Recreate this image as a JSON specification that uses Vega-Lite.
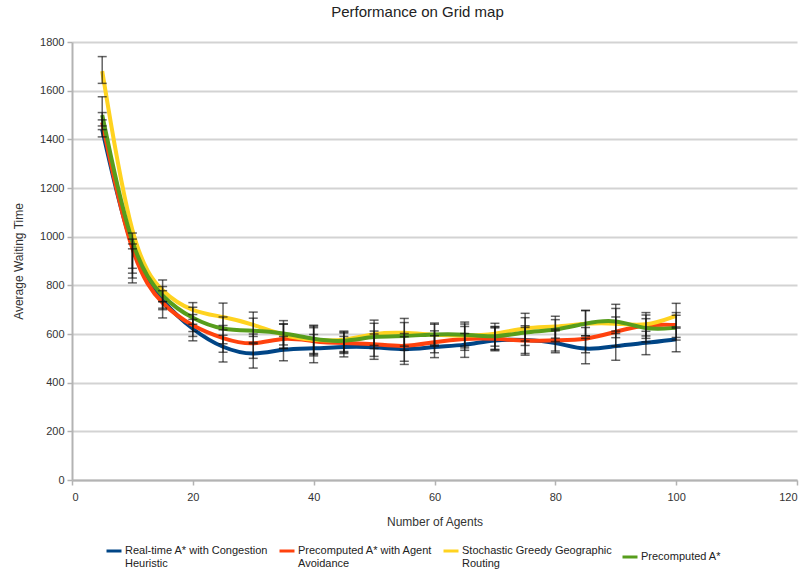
{
  "$schema": "https://vega.github.io/schema/vega-lite/v6.json",
  "width": 725,
  "height": 438,
  "autosize": {"type": "none"},
  "padding": {"left": 72, "top": 42, "right": 14, "bottom": 98},
  "background": "white",
  "title": {"text": "Performance on Grid map", "fontSize": 15, "font": "Liberation Sans", "fontWeight": "normal", "color": "#222", "anchor": "middle", "dx": -17, "offset": 16},
  "config": {
    "view": {"stroke": null},
    "font": "Liberation Sans",
    "axis": {"labelFont": "Liberation Sans", "titleFont": "Liberation Sans", "labelFontSize": 11, "titleFontSize": 12, "titleFontWeight": "normal", "labelColor": "#333", "titleColor": "#333", "domainColor": "#b3b3b3", "domainWidth": 2, "tickColor": "#b3b3b3", "tickWidth": 1.5, "tickSize": 5}
  },
  "datasets": {
    "runs": [
      {"agents": 5, "algorithm": "Real-time A* with Congestion Heuristic", "time": 1440, "lo": 1410, "hi": 1480},
      {"agents": 10, "algorithm": "Real-time A* with Congestion Heuristic", "time": 900, "lo": 830, "hi": 970},
      {"agents": 15, "algorithm": "Real-time A* with Congestion Heuristic", "time": 730, "lo": 700, "hi": 778},
      {"agents": 20, "algorithm": "Real-time A* with Congestion Heuristic", "time": 615, "lo": 572, "hi": 660},
      {"agents": 25, "algorithm": "Real-time A* with Congestion Heuristic", "time": 540, "lo": 485, "hi": 595},
      {"agents": 30, "algorithm": "Real-time A* with Congestion Heuristic", "time": 510, "lo": 460, "hi": 560},
      {"agents": 35, "algorithm": "Real-time A* with Congestion Heuristic", "time": 540, "lo": 490, "hi": 590},
      {"agents": 40, "algorithm": "Real-time A* with Congestion Heuristic", "time": 540, "lo": 482, "hi": 598},
      {"agents": 45, "algorithm": "Real-time A* with Congestion Heuristic", "time": 548, "lo": 506, "hi": 590},
      {"agents": 50, "algorithm": "Real-time A* with Congestion Heuristic", "time": 548, "lo": 496, "hi": 600},
      {"agents": 55, "algorithm": "Real-time A* with Congestion Heuristic", "time": 532, "lo": 475, "hi": 589},
      {"agents": 60, "algorithm": "Real-time A* with Congestion Heuristic", "time": 548, "lo": 503, "hi": 593},
      {"agents": 65, "algorithm": "Real-time A* with Congestion Heuristic", "time": 553, "lo": 504, "hi": 602},
      {"agents": 70, "algorithm": "Real-time A* with Congestion Heuristic", "time": 578, "lo": 531, "hi": 625},
      {"agents": 75, "algorithm": "Real-time A* with Congestion Heuristic", "time": 577, "lo": 520, "hi": 634},
      {"agents": 80, "algorithm": "Real-time A* with Congestion Heuristic", "time": 568, "lo": 523, "hi": 613},
      {"agents": 85, "algorithm": "Real-time A* with Congestion Heuristic", "time": 530, "lo": 478, "hi": 582},
      {"agents": 90, "algorithm": "Real-time A* with Congestion Heuristic", "time": 552, "lo": 492, "hi": 612},
      {"agents": 95, "algorithm": "Real-time A* with Congestion Heuristic", "time": 563, "lo": 515, "hi": 611},
      {"agents": 100, "algorithm": "Real-time A* with Congestion Heuristic", "time": 578, "lo": 527, "hi": 629},
      {"agents": 5, "algorithm": "Precomputed A* with Agent Avoidance", "time": 1470, "lo": 1440, "hi": 1510},
      {"agents": 10, "algorithm": "Precomputed A* with Agent Avoidance", "time": 880, "lo": 810, "hi": 950},
      {"agents": 15, "algorithm": "Precomputed A* with Agent Avoidance", "time": 715, "lo": 666, "hi": 733},
      {"agents": 20, "algorithm": "Precomputed A* with Agent Avoidance", "time": 630, "lo": 590, "hi": 680},
      {"agents": 25, "algorithm": "Precomputed A* with Agent Avoidance", "time": 580, "lo": 525, "hi": 635},
      {"agents": 30, "algorithm": "Precomputed A* with Agent Avoidance", "time": 550, "lo": 500, "hi": 600},
      {"agents": 35, "algorithm": "Precomputed A* with Agent Avoidance", "time": 590, "lo": 540, "hi": 640},
      {"agents": 40, "algorithm": "Precomputed A* with Agent Avoidance", "time": 568, "lo": 510, "hi": 626},
      {"agents": 45, "algorithm": "Precomputed A* with Agent Avoidance", "time": 562, "lo": 520, "hi": 604},
      {"agents": 50, "algorithm": "Precomputed A* with Agent Avoidance", "time": 560, "lo": 508, "hi": 612},
      {"agents": 55, "algorithm": "Precomputed A* with Agent Avoidance", "time": 545, "lo": 488, "hi": 602},
      {"agents": 60, "algorithm": "Precomputed A* with Agent Avoidance", "time": 568, "lo": 523, "hi": 613},
      {"agents": 65, "algorithm": "Precomputed A* with Agent Avoidance", "time": 582, "lo": 533, "hi": 631},
      {"agents": 70, "algorithm": "Precomputed A* with Agent Avoidance", "time": 582, "lo": 535, "hi": 629},
      {"agents": 75, "algorithm": "Precomputed A* with Agent Avoidance", "time": 570, "lo": 513, "hi": 627},
      {"agents": 80, "algorithm": "Precomputed A* with Agent Avoidance", "time": 575, "lo": 530, "hi": 620},
      {"agents": 85, "algorithm": "Precomputed A* with Agent Avoidance", "time": 575, "lo": 523, "hi": 627},
      {"agents": 90, "algorithm": "Precomputed A* with Agent Avoidance", "time": 610, "lo": 550, "hi": 670},
      {"agents": 95, "algorithm": "Precomputed A* with Agent Avoidance", "time": 640, "lo": 592, "hi": 688},
      {"agents": 100, "algorithm": "Precomputed A* with Agent Avoidance", "time": 637, "lo": 586, "hi": 688},
      {"agents": 5, "algorithm": "Stochastic Greedy Geographic Routing", "time": 1680, "lo": 1630, "hi": 1740},
      {"agents": 10, "algorithm": "Stochastic Greedy Geographic Routing", "time": 930, "lo": 870, "hi": 1015},
      {"agents": 15, "algorithm": "Stochastic Greedy Geographic Routing", "time": 765, "lo": 733, "hi": 822},
      {"agents": 20, "algorithm": "Stochastic Greedy Geographic Routing", "time": 690, "lo": 640, "hi": 729},
      {"agents": 25, "algorithm": "Stochastic Greedy Geographic Routing", "time": 672, "lo": 617, "hi": 727},
      {"agents": 30, "algorithm": "Stochastic Greedy Geographic Routing", "time": 640, "lo": 590, "hi": 690},
      {"agents": 35, "algorithm": "Stochastic Greedy Geographic Routing", "time": 592, "lo": 542, "hi": 642},
      {"agents": 40, "algorithm": "Stochastic Greedy Geographic Routing", "time": 574, "lo": 516, "hi": 632},
      {"agents": 45, "algorithm": "Stochastic Greedy Geographic Routing", "time": 570, "lo": 528, "hi": 612},
      {"agents": 50, "algorithm": "Stochastic Greedy Geographic Routing", "time": 605, "lo": 553, "hi": 657},
      {"agents": 55, "algorithm": "Stochastic Greedy Geographic Routing", "time": 607, "lo": 550, "hi": 664},
      {"agents": 60, "algorithm": "Stochastic Greedy Geographic Routing", "time": 595, "lo": 550, "hi": 640},
      {"agents": 65, "algorithm": "Stochastic Greedy Geographic Routing", "time": 592, "lo": 543, "hi": 641},
      {"agents": 70, "algorithm": "Stochastic Greedy Geographic Routing", "time": 597, "lo": 550, "hi": 644},
      {"agents": 75, "algorithm": "Stochastic Greedy Geographic Routing", "time": 628, "lo": 571, "hi": 685},
      {"agents": 80, "algorithm": "Stochastic Greedy Geographic Routing", "time": 628, "lo": 583, "hi": 673},
      {"agents": 85, "algorithm": "Stochastic Greedy Geographic Routing", "time": 645, "lo": 593, "hi": 697},
      {"agents": 90, "algorithm": "Stochastic Greedy Geographic Routing", "time": 645, "lo": 585, "hi": 705},
      {"agents": 95, "algorithm": "Stochastic Greedy Geographic Routing", "time": 630, "lo": 582, "hi": 678},
      {"agents": 100, "algorithm": "Stochastic Greedy Geographic Routing", "time": 675, "lo": 624, "hi": 726},
      {"agents": 5, "algorithm": "Precomputed A*", "time": 1500, "lo": 1455, "hi": 1575},
      {"agents": 10, "algorithm": "Precomputed A*", "time": 910, "lo": 850, "hi": 990},
      {"agents": 15, "algorithm": "Precomputed A*", "time": 745, "lo": 706, "hi": 795},
      {"agents": 20, "algorithm": "Precomputed A*", "time": 660, "lo": 610, "hi": 710},
      {"agents": 25, "algorithm": "Precomputed A*", "time": 615, "lo": 560, "hi": 670},
      {"agents": 30, "algorithm": "Precomputed A*", "time": 615, "lo": 565, "hi": 665},
      {"agents": 35, "algorithm": "Precomputed A*", "time": 605, "lo": 555, "hi": 655},
      {"agents": 40, "algorithm": "Precomputed A*", "time": 578, "lo": 520, "hi": 636},
      {"agents": 45, "algorithm": "Precomputed A*", "time": 566, "lo": 524, "hi": 608},
      {"agents": 50, "algorithm": "Precomputed A*", "time": 592, "lo": 540, "hi": 644},
      {"agents": 55, "algorithm": "Precomputed A*", "time": 590, "lo": 533, "hi": 647},
      {"agents": 60, "algorithm": "Precomputed A*", "time": 600, "lo": 555, "hi": 645},
      {"agents": 65, "algorithm": "Precomputed A*", "time": 600, "lo": 551, "hi": 649},
      {"agents": 70, "algorithm": "Precomputed A*", "time": 584, "lo": 537, "hi": 631},
      {"agents": 75, "algorithm": "Precomputed A*", "time": 610, "lo": 553, "hi": 667},
      {"agents": 80, "algorithm": "Precomputed A*", "time": 614, "lo": 569, "hi": 659},
      {"agents": 85, "algorithm": "Precomputed A*", "time": 645, "lo": 593, "hi": 697},
      {"agents": 90, "algorithm": "Precomputed A*", "time": 662, "lo": 602, "hi": 722},
      {"agents": 95, "algorithm": "Precomputed A*", "time": 615, "lo": 567, "hi": 663},
      {"agents": 100, "algorithm": "Precomputed A*", "time": 626, "lo": 575, "hi": 677}
    ]
  },
  "data": {"name": "runs"},
  "layer": [
    {
      "mark": {"type": "line", "interpolate": "basis", "strokeWidth": 4},
      "encoding": {
        "x": {"field": "agents", "type": "quantitative", "title": "Number of Agents",
              "scale": {"domain": [0, 120], "nice": false},
              "axis": {"values": [0, 20, 40, 60, 80, 100, 120], "grid": false, "labelPadding": 6, "titlePadding": 14}},
        "y": {"field": "time", "type": "quantitative", "title": "Average Waiting Time",
              "scale": {"domain": [0, 1800], "nice": false},
              "axis": {"title": "Average Waiting Time", "format": "d", "values": [0, 200, 400, 600, 800, 1000, 1200, 1400, 1600, 1800], "grid": true, "gridColor": "#d3d3d3", "gridWidth": 2, "labelPadding": 3, "titlePadding": 14}},
        "color": {"field": "algorithm", "type": "nominal", "sort": null,
                  "scale": {"domain": ["Real-time A* with Congestion Heuristic", "Precomputed A* with Agent Avoidance", "Stochastic Greedy Geographic Routing", "Precomputed A*"],
                            "range": ["#004586", "#ff420e", "#ffd320", "#579d1c"]},
                  "legend": {"title": null, "orient": "none", "direction": "horizontal", "legendX": 33, "legendY": 500, "padding": 0,
                             "symbolType": "stroke", "symbolStrokeWidth": 3, "symbolSize": 225, "labelFontSize": 11, "labelFont": "Liberation Sans", "labelColor": "#222", "labelLimit": 220, "columnPadding": 4, "labelOffset": 2,
                             "labelExpr": "datum.label == 'Real-time A* with Congestion Heuristic' ? ['Real-time A* with Congestion', 'Heuristic'] : datum.label == 'Precomputed A* with Agent Avoidance' ? ['Precomputed A* with Agent', 'Avoidance'] : datum.label == 'Stochastic Greedy Geographic Routing' ? ['Stochastic Greedy Geographic', 'Routing'] : datum.label"}},
        "order": {"field": "agents", "type": "quantitative"}
      }
    },
    {
      "mark": {"type": "errorbar", "ticks": {"size": 9, "thickness": 1.5}, "rule": {"strokeWidth": 1.5}, "color": "#111", "opacity": 0.65},
      "encoding": {
        "x": {"field": "agents", "type": "quantitative"},
        "y": {"field": "lo", "type": "quantitative", "title": "Average Waiting Time"},
        "y2": {"field": "hi"}
      }
    }
  ]
}
